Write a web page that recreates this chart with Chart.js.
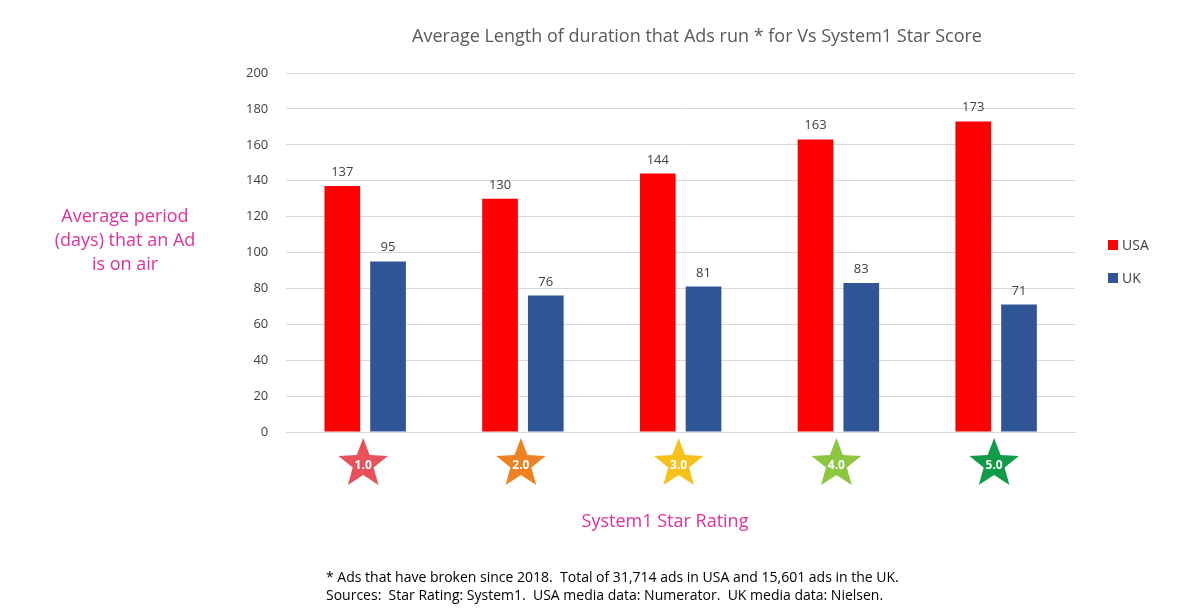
<!DOCTYPE html>
<html><head><meta charset="utf-8">
<script src="https://cdn.jsdelivr.net/npm/chart.js@4"></script>
<style>html,body{margin:0;background:#fff}#wrap{width:1200px;height:612px}</style>
</head><body><div id="wrap"><canvas id="c"></canvas></div>
<script>
var ratings = ["1.0", "2.0", "3.0", "4.0", "5.0"];
var usa = [137, 130, 144, 163, 173];
var uk = [95, 76, 81, 83, 71];
var starColors = ["#e8505b", "#ee8222", "#f7c119", "#8dc63f", "#0f9b48"];
var FONT = "'Open Sans', sans-serif";

function star(ctx, cx, cy, R, r) {
  ctx.beginPath();
  for (var i = 0; i < 10; i++) {
    var a = -Math.PI / 2 + i * Math.PI / 5, rad = i % 2 ? r : R;
    ctx.lineTo(cx + rad * Math.cos(a), cy + rad * Math.sin(a));
  }
  ctx.closePath();
}

var extras = {
  id: "extras",
  afterDraw: function (chart) {
    var ctx = chart.ctx, x = chart.scales.x;
    ctx.save();
    // value labels
    ctx.font = "13px " + FONT; ctx.fillStyle = "#404040"; ctx.textAlign = "center";
    chart.data.datasets.forEach(function (ds, di) {
      chart.getDatasetMeta(di).data.forEach(function (bar, i) {
        ctx.fillText(ds.data[i], bar.x, bar.y - 10);
      });
    });
    // stars
    ratings.forEach(function (r, i) {
      var cx = x.getPixelForTick(i) - 2, cy = 464;
      ctx.fillStyle = starColors[i]; star(ctx, cx, cy, 26, 11); ctx.fill();
      ctx.fillStyle = "#fff"; ctx.font = "bold 12px " + FONT; ctx.textBaseline = "middle";
      ctx.fillText(r, cx, cy + 2);
    });
    ctx.textBaseline = "alphabetic";
    // title
    ctx.fillStyle = "#595959"; ctx.font = "18px " + FONT;
    ctx.fillText("Average Length of duration that Ads run * for Vs System1 Star Score", 697, 42);
    // axis titles
    ctx.fillStyle = "#e0309a"; ctx.font = "18px " + FONT;
    ctx.fillText("System1 Star Rating", 665, 527);
    ["Average period", "(days) that an Ad", "is on air"].forEach(function (t, k) {
      ctx.fillText(t, 125, 222 + k * 24);
    });
    // legend
    ctx.textAlign = "left"; ctx.font = "14px " + FONT;
    [["USA", "#ff0000", 245], ["UK", "#2f5597", 278]].forEach(function (l) {
      ctx.fillStyle = l[1]; ctx.fillRect(1108, l[2] - 5, 10, 10);
      ctx.fillStyle = "#404040"; ctx.fillText(l[0], 1122, l[2] + 5);
    });
    // footer
    ctx.fillStyle = "#000"; ctx.font = "14px " + FONT;
    ctx.fillText("* Ads that have broken since 2018.  Total of 31,714 ads in USA and 15,601 ads in the UK.", 326, 582);
    ctx.fillText("Sources:  Star Rating: System1.  USA media data: Numerator.  UK media data: Nielsen.", 326, 600);
    ctx.restore();
  }
};

new Chart(document.getElementById("c"), {
  type: "bar",
  data: { labels: ratings, datasets: [
    { label: "USA", data: usa, backgroundColor: "#ff0000" },
    { label: "UK", data: uk, backgroundColor: "#2f5597" }
  ] },
  options: {
    responsive: true, maintainAspectRatio: false, animation: false,
    layout: { padding: { left: 228, right: 125, top: 73, bottom: 172 } },
    categoryPercentage: 0.58, barPercentage: 0.78,
    plugins: { legend: { display: false }, tooltip: { enabled: false } },
    scales: {
      x: { ticks: { display: false }, grid: { display: false }, border: { color: "#d9d9d9" } },
      y: { min: 0, max: 200, ticks: { stepSize: 20, color: "#404040", font: { size: 13, family: FONT }, padding: 18 },
           grid: { color: "#d9d9d9", drawTicks: false }, border: { display: false } }
    }
  },
  plugins: [extras]
});
</script></body></html>
